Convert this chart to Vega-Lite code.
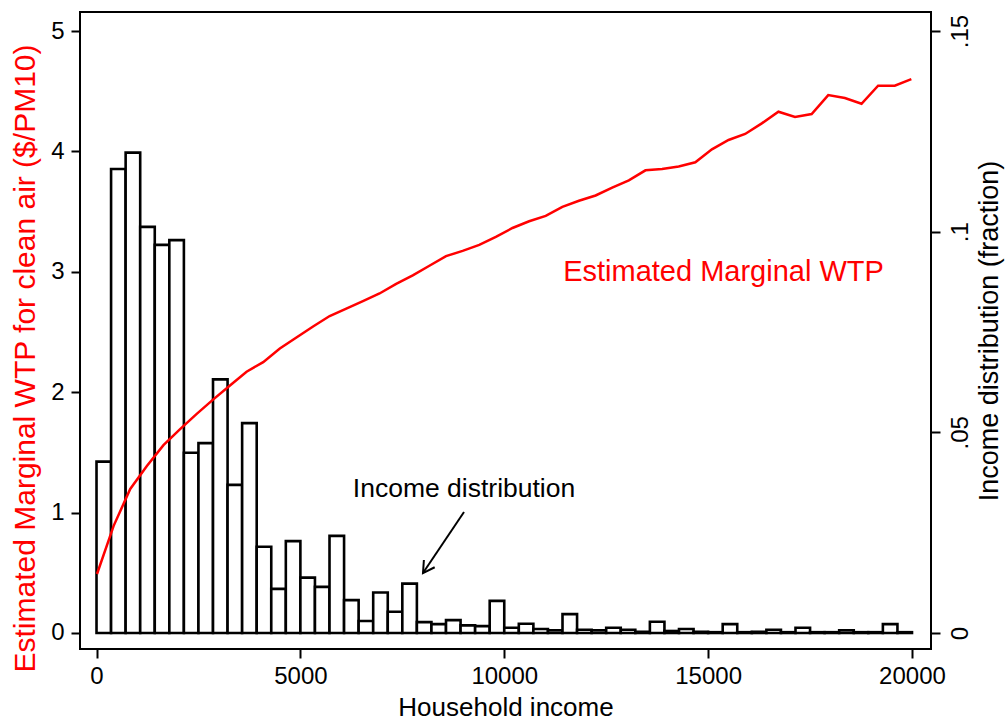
{
  "$schema": "https://vega.github.io/schema/vega-lite/v6.json",
  "width": 851,
  "height": 637,
  "autosize": {"type": "none"},
  "padding": {"left": 80, "top": 12, "right": 74, "bottom": 74},
  "background": "white",
  "config": {
    "font": "Liberation Sans",
    "view": {"stroke": "black", "strokeWidth": 2},
    "axis": {
      "grid": false,
      "domain": false,
      "tickColor": "black",
      "tickWidth": 2,
      "tickSize": 9,
      "labelColor": "black",
      "titleColor": "black",
      "titleFontWeight": "normal",
      "labelFontSize": 24,
      "titleFontSize": 26,
      "labelFlush": false,
      "labelOverlap": false
    }
  },
  "datasets": {
    "hist": [
      {"lo": 0, "hi": 357.1, "frac": 0.0427},
      {"lo": 357.1, "hi": 714.3, "frac": 0.1156},
      {"lo": 714.3, "hi": 1071.4, "frac": 0.1197},
      {"lo": 1071.4, "hi": 1428.6, "frac": 0.1012},
      {"lo": 1428.6, "hi": 1785.7, "frac": 0.0967},
      {"lo": 1785.7, "hi": 2142.9, "frac": 0.0979},
      {"lo": 2142.9, "hi": 2500, "frac": 0.0449},
      {"lo": 2500, "hi": 2857.1, "frac": 0.0473},
      {"lo": 2857.1, "hi": 3214.3, "frac": 0.0632},
      {"lo": 3214.3, "hi": 3571.4, "frac": 0.0369},
      {"lo": 3571.4, "hi": 3928.6, "frac": 0.0523},
      {"lo": 3928.6, "hi": 4285.7, "frac": 0.0215},
      {"lo": 4285.7, "hi": 4642.9, "frac": 0.011},
      {"lo": 4642.9, "hi": 5000, "frac": 0.0229},
      {"lo": 5000, "hi": 5357.1, "frac": 0.0138},
      {"lo": 5357.1, "hi": 5714.3, "frac": 0.0115},
      {"lo": 5714.3, "hi": 6071.4, "frac": 0.0242},
      {"lo": 6071.4, "hi": 6428.6, "frac": 0.0082},
      {"lo": 6428.6, "hi": 6785.7, "frac": 0.003},
      {"lo": 6785.7, "hi": 7142.9, "frac": 0.0101},
      {"lo": 7142.9, "hi": 7500, "frac": 0.0053},
      {"lo": 7500, "hi": 7857.1, "frac": 0.0123},
      {"lo": 7857.1, "hi": 8214.3, "frac": 0.0027},
      {"lo": 8214.3, "hi": 8571.4, "frac": 0.0022},
      {"lo": 8571.4, "hi": 8928.6, "frac": 0.0032},
      {"lo": 8928.6, "hi": 9285.7, "frac": 0.0019},
      {"lo": 9285.7, "hi": 9642.9, "frac": 0.0017},
      {"lo": 9642.9, "hi": 10000, "frac": 0.008},
      {"lo": 10000, "hi": 10357.1, "frac": 0.0013},
      {"lo": 10357.1, "hi": 10714.3, "frac": 0.0023},
      {"lo": 10714.3, "hi": 11071.4, "frac": 0.001},
      {"lo": 11071.4, "hi": 11428.6, "frac": 0.0007},
      {"lo": 11428.6, "hi": 11785.7, "frac": 0.0047},
      {"lo": 11785.7, "hi": 12142.9, "frac": 0.0008},
      {"lo": 12142.9, "hi": 12500, "frac": 0.0007},
      {"lo": 12500, "hi": 12857.1, "frac": 0.0013},
      {"lo": 12857.1, "hi": 13214.3, "frac": 0.0008},
      {"lo": 13214.3, "hi": 13571.4, "frac": 0.0003},
      {"lo": 13571.4, "hi": 13928.6, "frac": 0.0028},
      {"lo": 13928.6, "hi": 14285.7, "frac": 0.0005},
      {"lo": 14285.7, "hi": 14642.9, "frac": 0.001},
      {"lo": 14642.9, "hi": 15000, "frac": 0.0003},
      {"lo": 15000, "hi": 15357.1, "frac": 0.0002},
      {"lo": 15357.1, "hi": 15714.3, "frac": 0.0022},
      {"lo": 15714.3, "hi": 16071.4, "frac": 0.0002},
      {"lo": 16071.4, "hi": 16428.6, "frac": 0.0003},
      {"lo": 16428.6, "hi": 16785.7, "frac": 0.0008},
      {"lo": 16785.7, "hi": 17142.9, "frac": 0.0002},
      {"lo": 17142.9, "hi": 17500, "frac": 0.0013},
      {"lo": 17500, "hi": 17857.1, "frac": 0.0002},
      {"lo": 17857.1, "hi": 18214.3, "frac": 0.0002},
      {"lo": 18214.3, "hi": 18571.4, "frac": 0.0007},
      {"lo": 18571.4, "hi": 18928.6, "frac": 0.0002},
      {"lo": 18928.6, "hi": 19285.7, "frac": 0.0002},
      {"lo": 19285.7, "hi": 19642.9, "frac": 0.0022},
      {"lo": 19642.9, "hi": 20000, "frac": 0.0002}
    ],
    "wtp": [
      {"income": 12, "wtp": 0.49},
      {"income": 420, "wtp": 0.89},
      {"income": 827, "wtp": 1.196},
      {"income": 1235, "wtp": 1.387},
      {"income": 1642, "wtp": 1.56},
      {"income": 2050, "wtp": 1.694},
      {"income": 2458, "wtp": 1.82},
      {"income": 2865, "wtp": 1.94},
      {"income": 3273, "wtp": 2.056},
      {"income": 3680, "wtp": 2.17},
      {"income": 4088, "wtp": 2.25},
      {"income": 4496, "wtp": 2.363},
      {"income": 4903, "wtp": 2.454},
      {"income": 5311, "wtp": 2.546},
      {"income": 5718, "wtp": 2.633},
      {"income": 6126, "wtp": 2.695},
      {"income": 6534, "wtp": 2.757},
      {"income": 6941, "wtp": 2.82},
      {"income": 7349, "wtp": 2.9},
      {"income": 7756, "wtp": 2.97},
      {"income": 8164, "wtp": 3.05},
      {"income": 8572, "wtp": 3.13},
      {"income": 8979, "wtp": 3.174},
      {"income": 9387, "wtp": 3.224},
      {"income": 9794, "wtp": 3.29},
      {"income": 10202, "wtp": 3.364},
      {"income": 10610, "wtp": 3.42},
      {"income": 11017, "wtp": 3.464},
      {"income": 11425, "wtp": 3.54},
      {"income": 11832, "wtp": 3.59},
      {"income": 12240, "wtp": 3.634},
      {"income": 12648, "wtp": 3.7},
      {"income": 13055, "wtp": 3.76},
      {"income": 13463, "wtp": 3.843},
      {"income": 13870, "wtp": 3.854},
      {"income": 14278, "wtp": 3.875},
      {"income": 14686, "wtp": 3.91},
      {"income": 15093, "wtp": 4.017},
      {"income": 15501, "wtp": 4.095},
      {"income": 15908, "wtp": 4.145},
      {"income": 16316, "wtp": 4.233},
      {"income": 16724, "wtp": 4.33},
      {"income": 17131, "wtp": 4.286},
      {"income": 17539, "wtp": 4.31},
      {"income": 17946, "wtp": 4.468},
      {"income": 18354, "wtp": 4.444},
      {"income": 18762, "wtp": 4.396},
      {"income": 19169, "wtp": 4.546},
      {"income": 19577, "wtp": 4.546},
      {"income": 19984, "wtp": 4.6}
    ],
    "arrow": [
      {"part": "shaft", "ord": 0, "income": 9013, "wtp": 1.005},
      {"part": "shaft", "ord": 1, "income": 8007, "wtp": 0.498},
      {"part": "head", "ord": 0, "income": 8294, "wtp": 0.546},
      {"part": "head", "ord": 1, "income": 8007, "wtp": 0.498},
      {"part": "head", "ord": 2, "income": 8029, "wtp": 0.606}
    ],
    "labels": [
      {"income": 15377, "wtp": 3.0, "text": "Estimated Marginal WTP", "kind": "wtp"},
      {"income": 9013, "wtp": 1.2, "text": "Income distribution", "kind": "hist"}
    ]
  },
  "layer": [
    {
      "data": {"name": "hist"},
      "mark": {"type": "rect", "fill": "white", "stroke": "black", "strokeWidth": 2.6},
      "encoding": {
        "x": {
          "field": "lo",
          "type": "quantitative",
          "scale": {"domain": [-405, 20466], "nice": false, "zero": false},
          "axis": {
            "title": "Household income",
            "values": [0, 5000, 10000, 15000, 20000],
            "format": "d",
            "labelPadding": 6,
            "titlePadding": 6
          }
        },
        "x2": {"field": "hi"},
        "y": {
          "field": "frac",
          "type": "quantitative",
          "scale": {"domain": [-0.00399, 0.15474], "nice": false, "zero": false},
          "axis": {
            "orient": "right",
            "title": "Income distribution (fraction)",
            "titleFontSize": 27,
            "values": [0, 0.05, 0.1, 0.15],
            "labelExpr": "datum.value == 0 ? '0' : replace(format(datum.value, '.2~f'), '0.', '.')",
            "labelAngle": -90,
            "labelAlign": "center",
            "labelBaseline": "top",
            "labelPadding": 8,
            "titleAngle": -90,
            "titleAlign": "center",
            "titleBaseline": "middle",
            "titleX": 58,
            "titleY": 318.5
          }
        },
        "y2": {"datum": 0}
      }
    },
    {
      "layer": [
        {
          "data": {"name": "wtp"},
          "mark": {"type": "line", "color": "#ff0000", "strokeWidth": 2.5},
          "encoding": {
            "x": {"field": "income", "type": "quantitative", "title": "Household income"},
            "y": {
              "field": "wtp",
              "type": "quantitative",
              "scale": {"domain": [-0.133, 5.158], "nice": false, "zero": false},
              "axis": {
                "orient": "left",
                "title": "Estimated Marginal WTP for clean air ($/PM10)",
                "titleColor": "#ff0000",
                "titleFontSize": 30,
                "values": [0, 1, 2, 3, 4, 5],
                "format": "d",
                "labelPadding": 7,
                "titleAngle": -90,
                "titleAlign": "center",
                "titleBaseline": "middle",
                "titleX": -55,
                "titleY": 346
              }
            }
          }
        },
        {
          "data": {"name": "arrow"},
          "mark": {"type": "line", "color": "black", "strokeWidth": 2},
          "encoding": {
            "x": {"field": "income", "type": "quantitative", "title": "Household income"},
            "y": {"field": "wtp", "type": "quantitative", "title": "Estimated Marginal WTP for clean air ($/PM10)"},
            "detail": {"field": "part"},
            "order": {"field": "ord"}
          }
        },
        {
          "data": {"name": "labels"},
          "mark": {"type": "text", "align": "center", "baseline": "middle"},
          "encoding": {
            "x": {"field": "income", "type": "quantitative", "title": "Household income"},
            "y": {"field": "wtp", "type": "quantitative", "title": "Estimated Marginal WTP for clean air ($/PM10)"},
            "text": {"field": "text"},
            "color": {
              "field": "kind",
              "type": "nominal",
              "scale": {"domain": ["wtp", "hist"], "range": ["#ff0000", "black"]},
              "legend": null
            },
            "size": {
              "field": "kind",
              "type": "nominal",
              "scale": {"domain": ["wtp", "hist"], "range": [29, 26.5]},
              "legend": null
            }
          }
        }
      ]
    }
  ],
  "resolve": {"scale": {"y": "independent"}}
}
